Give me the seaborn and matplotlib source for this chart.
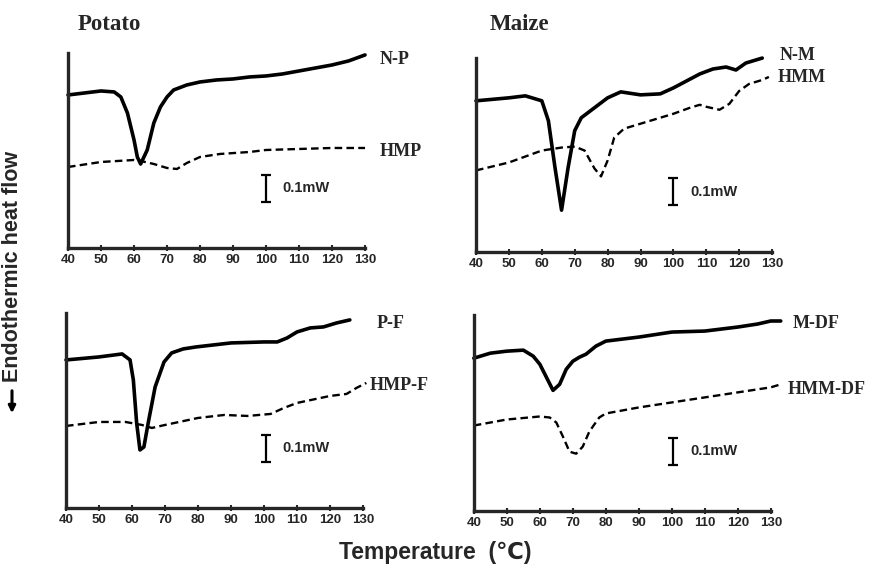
import numpy as np
import pandas as pd
import matplotlib
matplotlib.use("Agg")
import matplotlib.pyplot as plt
import seaborn as sns

# ---- data (relative heat flow, arbitrary units; 27 units = 0.1 mW) ----
np_t = [40,45,50,54,56,58,60,61,62,64,66,68,70,72,76,80,85,90,95,100,105,110,115,120,125,130]
np_v = [153,155,157,156,151,135,108,91,84,98,125,141,151,158,163,166,168,169,171,172,174,177,180,183,187,193]
hmp_t = [40,50,60,62,66,70,73,76,80,86,95,100,110,120,130]
hmp_v = [81,86,88,87,84,80,79,85,91,94,96,98,99,100,100]

nm_t = [40,50,55,60,62,64,66,68,70,72,76,80,84,90,96,100,104,108,112,116,119,122,125,127]
nm_v = [152,155,157,152,132,85,42,85,122,135,145,155,161,158,159,165,172,179,184,186,183,190,193,195]
hmm_t = [40,50,60,66,70,73,76,78,80,82,85,90,100,105,108,110,114,117,120,123,127,129]
hmm_v = [82,90,102,105,106,102,84,76,92,115,124,129,139,145,148,146,143,149,162,169,173,176]

pf_t = [40,50,57,59.4,60.4,61.4,62.4,63.6,64.9,67,69.7,72,75.5,79.4,90,100,104,107,110,114,118,122,126]
pf_v = [148,151,154,148,128,85,58,61,85,121,146,155,159,161,165,166,166,170,176,180,181,185,188]
hmpf_t = [40,50,58,63,66,70,80,88,95,102,106,110,120,125,128,131]
hmpf_v = [82,86,86,83,80,83,90,93,92,94,100,105,112,114,120,125]

mdf_t = [40,45,50,55,58,60,62,64,66,68,70,72,74,77,80,85,90,100,110,120,126,130,133]
mdf_v = [152,157,159,160,154,146,133,120,126,141,149,153,156,164,169,171,173,178,179,183,186,189,189]
hmmdf_t = [40,50,60,63,65,67,69,71,73,75,78,80,85,90,100,110,120,130,133]
hmmdf_v = [85,91,94,93,88,74,59,57,64,79,93,97,100,103,108,113,118,123,126]

x_ticks = [40,50,60,70,80,90,100,110,120,130]
scale_bar = 27  # 0.1 mW

panels = [
    dict(pos=[0.0781, 0.5626, 0.341, 0.344],
         solid=(np_t, np_v, "N-P"), dashed=(hmp_t, hmp_v, "HMP"),
         solid_lab=(380, 59), dashed_lab=(380, 151), bar=(100, 46)),
    dict(pos=[0.5465, 0.5556, 0.340, 0.342],
         solid=(nm_t, nm_v, "N-M"), dashed=(hmm_t, hmm_v, "HMM"),
         solid_lab=(780, 56), dashed_lab=(778, 78), bar=(100, 47)),
    dict(pos=[0.0758, 0.1041, 0.341, 0.344],
         solid=(pf_t, pf_v, "P-F"), dashed=(hmpf_t, hmpf_v, "HMP-F"),
         solid_lab=(377, 324), dashed_lab=(370, 385), bar=(100.5, 46)),
    dict(pos=[0.544, 0.0988, 0.341, 0.3457],
         solid=(mdf_t, mdf_v, "M-DF"), dashed=(hmmdf_t, hmmdf_v, "HMM-DF"),
         solid_lab=(793, 324), dashed_lab=(788, 390), bar=(100.5, 46)),
]

sns.set_style("ticks")
plt.rcParams['font.family'] = ['Liberation Sans', 'DejaVu Sans']

W, H = 871, 567
fig = plt.figure(figsize=(W / 100, H / 100), dpi=100)

for p in panels:
    ax = fig.add_axes(p["pos"])
    st, sv, sl = p["solid"]
    dt, dv, dl = p["dashed"]
    sns.lineplot(x=st, y=sv, ax=ax, color="black", lw=2.6, clip_on=False)
    sns.lineplot(x=dt, y=dv, ax=ax, color="black", lw=1.7, clip_on=False,
                 dashes=False, linestyle=(0, (3.2, 1.8)))
    ax.set_xlim(40, 130)
    ax.set_ylim(0, 195)
    ax.set_xticks(x_ticks)
    ax.set_xticklabels([str(t) for t in x_ticks], fontsize=9.5, fontweight="bold")
    ax.set_yticks([])
    ax.tick_params(axis="x", direction="inout", length=5, width=1.5, pad=2)
    for s in ["top", "right"]:
        ax.spines[s].set_visible(False)
    for s in ["left", "bottom"]:
        ax.spines[s].set_linewidth(2.4)
    ax.set_xlabel("")
    ax.set_ylabel("")
    # scale bar
    bx, by_bottom = p["bar"]
    ax.errorbar([bx], [by_bottom + scale_bar / 2], yerr=[scale_bar / 2],
                color="black", lw=1.6, capsize=3.5, capthick=1.6, clip_on=False)
    ax.text(bx + 5, by_bottom + scale_bar / 2, "0.1mW", fontsize=10.5,
            va="center", ha="left", fontweight="bold")
    # curve labels
    for (lx, ly), txt in [(p["solid_lab"], sl), (p["dashed_lab"], dl)]:
        fig.text(lx / W, 1 - ly / H, txt, fontsize=13, fontweight="bold",
                 family="Liberation Serif", ha="left", va="center")

fig.text(78 / W, 1 - 24 / H, "Potato", fontsize=16.5, fontweight="bold",
         family="Liberation Serif", ha="left", va="center")
fig.text(490 / W, 1 - 25 / H, "Maize", fontsize=16.5, fontweight="bold",
         family="Liberation Serif", ha="left", va="center")

fig.text(13 / W, 1 - 266 / H, "Endothermic heat flow", rotation=90,
         fontsize=15.5, fontweight="bold", ha="center", va="center")
fig.add_artist(matplotlib.patches.FancyArrowPatch(
    (12 / W, 1 - 388 / H), (12 / W, 1 - 416 / H), transform=fig.transFigure,
    arrowstyle="-|>", mutation_scale=10, lw=2.2, color="black"))
fig.text(435 / W, 1 - 553 / H, "Temperature  (\u2103)", fontsize=16.5,
         fontweight="bold", ha="center", va="center")

fig.savefig("out.png", dpi=100)
